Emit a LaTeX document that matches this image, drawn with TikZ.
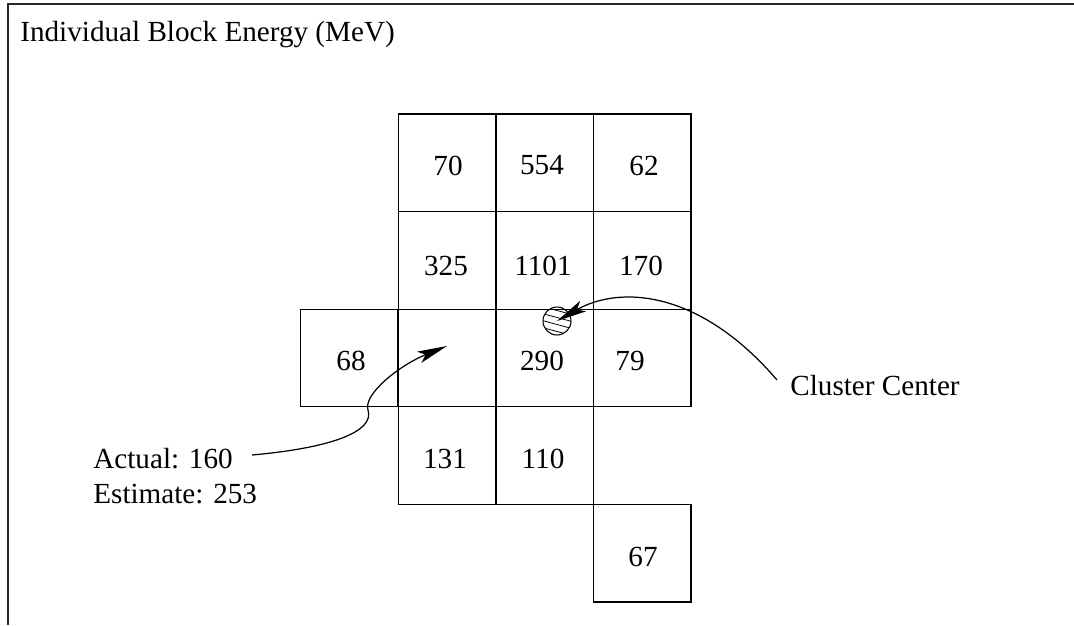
\documentclass[tikz,border=0pt]{standalone}
\usepackage{fontspec}
\setmainfont{Liberation Serif}
\usetikzlibrary{arrows.meta}
\begin{document}
\begin{tikzpicture}[x=0.02cm,y=-0.02cm,
  cell/.style={draw,line width=0.8pt,minimum width=1.952cm,minimum height=1.952cm,inner sep=0pt},
  num/.style={inner sep=0pt,font=\fontsize{16.6}{20}\selectfont},
  lbl/.style={inner sep=0pt,anchor=base west,font=\fontsize{16.6}{20}\selectfont},
  conn/.style={line width=0.7pt,-{Stealth[length=0.6cm,width=0.24cm,inset=0.14cm]}}]
\useasboundingbox (0,0) rectangle (1074,625);
% frame
\draw[line width=1pt,black!85] (8,625) -- (8,4) -- (1074,4);
% title
\node[lbl] (title) at (20,42) {Individual Block Energy (MeV)};
% cells
\node[cell] (c12) at (447,162.9) {};
\node[cell] (c13) at (544.9,162.9) {};
\node[cell] (c14) at (642.4,162.9) {};
\node[cell] (c22) at (447,260.5) {};
\node[cell] (c23) at (544.9,260.5) {};
\node[cell] (c24) at (642.4,260.5) {};
\node[cell] (c31) at (349.4,358) {};
\node[cell] (c32) at (447,358) {};
\node[cell] (c33) at (544.9,358) {};
\node[cell] (c34) at (642.4,358) {};
\node[cell] (c42) at (447,455.5) {};
\node[cell] (c43) at (544.9,455.5) {};
\node[cell] (c54) at (642.4,553) {};
% numbers
\node[num] (n12) at (448,165.5) {70};
\node[num] (n13) at (542,165.5) {554};
\node[num] (n14) at (644,165.5) {62};
\node[num] (n22) at (446,266) {325};
\node[num] (n23) at (543,266) {1101};
\node[num] (n24) at (641,266) {170};
\node[num] (n31) at (351,361) {68};
\node[num] (n33) at (542,361) {290};
\node[num] (n34) at (630,361) {79};
\node[num] (n42) at (445,458.5) {131};
\node[num] (n43) at (543,458.5) {110};
\node[num] (n54) at (643,557) {67};
% cluster centre marker
\node[draw,circle,line width=0.6pt,minimum size=0.56cm,inner sep=0pt] (cc) at (557,321) {};
\begin{scope}
\clip (557,321) circle (14);
\foreach \o in {-10.5,-3.5,3.5,10.5}
  \draw[line width=0.45pt] (537,315.6) ++(0,\o) -- ++(40,10.8);
\end{scope}
% labels
\node[lbl] (act) at (93,468) {Actual: 160};
\node[lbl] (est) at (93,503.5) {Estimate: 253};
\node[lbl] (clu) at (790,395) {Cluster Center};
% connectors
\coordinate (a0) at (252,455);
\coordinate (a1) at (368,410);
\coordinate (a2) at (447,346);
\coordinate (b0) at (777,380);
\draw[conn] (a0) .. controls (330,448) and (375,432) .. (a1)
  .. controls (363,394) and (400,365) .. (a2);
\draw[conn] (b0) .. controls (700,290) and (620,285) .. (cc.center);
\end{tikzpicture}
\end{document}
